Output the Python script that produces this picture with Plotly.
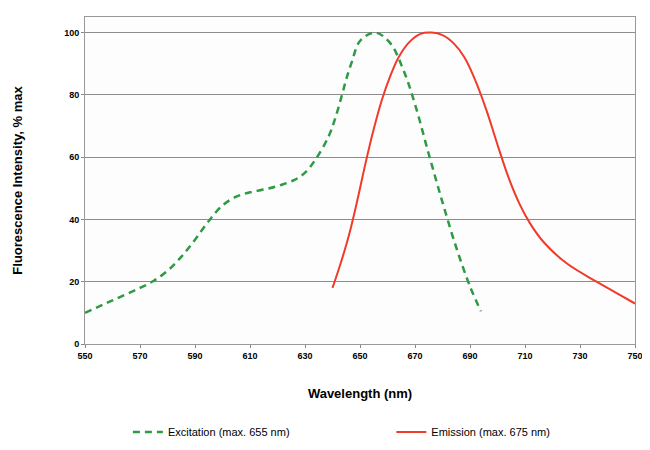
import plotly.graph_objects as go

ex_wl = [550, 560, 570, 575, 580, 585, 590, 595, 600, 605, 610, 616, 621, 626, 630, 634, 638.5, 641, 643.3, 645, 647, 650, 655.5, 661, 666, 670, 675, 680, 685, 690, 694]
ex_val = [10, 14, 18, 20.3, 23.5, 28, 33.5, 39.5, 44.5, 47.3, 48.7, 49.8, 51, 52.6, 55, 59.5, 66.5, 72.5, 79.5, 85, 90.5, 97.3, 100, 96.6, 87.5, 77, 61, 45.5, 31, 18.5, 10.5]

em_wl = [640, 643, 646, 649, 652, 655, 658, 661, 664, 668, 672, 676, 680, 684, 688, 692, 696, 700, 704, 708, 712, 717, 725, 736, 743, 750]
em_val = [18, 26, 35, 46, 58, 69, 78.5, 86, 92, 97, 99.6, 100, 99.2, 96.6, 92, 84.5, 75, 64, 53.5, 45, 38.5, 32.5, 26, 20, 16.5, 13]

x_ticks = list(range(550, 751, 20))
y_ticks = [0, 20, 40, 60, 80, 100]

FONT = "Arial, Liberation Sans, sans-serif"

fig = go.Figure()
fig.add_trace(go.Scatter(x=ex_wl, y=ex_val, mode="lines", name="Excitation (max. 655 nm)",
                         legend="legend",
                         line=dict(color="#2e9a44", width=2.5, dash="7px,5px", shape="spline", smoothing=1.0)))
fig.add_trace(go.Scatter(x=em_wl, y=em_val, mode="lines", name="Emission (max. 675 nm)",
                         legend="legend2",
                         line=dict(color="#f03a2a", width=2, shape="spline", smoothing=1.0)))

fig.update_layout(
    width=642, height=442,
    margin=dict(l=77, r=15, t=9, b=106, autoexpand=False),
    paper_bgcolor="white", plot_bgcolor="#fdfdfd",
    font=dict(family=FONT, color="black"),
    showlegend=True,
    legend=dict(orientation="h", x=0.078, xanchor="left", y=-0.269, yanchor="middle",
                font=dict(size=11, family=FONT), bgcolor="rgba(0,0,0,0)"),
    legend2=dict(orientation="h", x=0.557, xanchor="left", y=-0.269, yanchor="middle",
                 font=dict(size=11, family=FONT), bgcolor="rgba(0,0,0,0)"),
)
fig.update_xaxes(range=[550, 750], tickvals=x_ticks, ticks="outside", ticklen=3, tickcolor="#888",
                 showgrid=False, showline=True, linecolor="#999", linewidth=1, mirror=True,
                 zeroline=False, automargin=False,
                 tickfont=dict(size=9, weight="bold", family=FONT),
                 title=dict(text="Wavelength (nm)", font=dict(size=13, weight="bold"), standoff=29))
fig.update_yaxes(range=[0, 105], tickvals=y_ticks, ticks="outside", ticklen=3, tickcolor="#888",
                 showgrid=True, gridcolor="#8c8c8c", gridwidth=1,
                 showline=True, linecolor="#999", linewidth=1, mirror=True, zeroline=False,
                 automargin=False,
                 tickfont=dict(size=9, weight="bold", family=FONT),
                 title=dict(text="Fluorescence Intensity, % max", font=dict(size=13, weight="bold"), standoff=38))

fig.write_html("out.html")
